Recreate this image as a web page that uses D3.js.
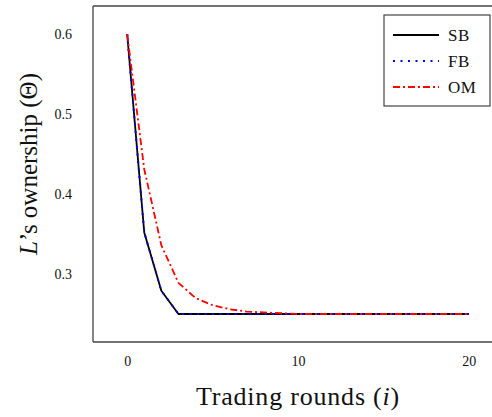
<!DOCTYPE html>
<html>
<head>
<meta charset="utf-8">
<script src="https://cdn.jsdelivr.net/npm/d3@7"></script>
<style>
  body { margin: 0; background: #fff; overflow: hidden; }
  svg { display: block; overflow: hidden; font-family: "Liberation Serif", "DejaVu Serif", serif; }
</style>
</head>
<body>
<div id="chart"></div>
<script>
// Trading rounds 0..20
const rounds = d3.range(0, 21);
const sbValues = [0.6, 0.352, 0.279, 0.25, 0.25, 0.25, 0.25, 0.25, 0.25, 0.25, 0.25,
                  0.25, 0.25, 0.25, 0.25, 0.25, 0.25, 0.25, 0.25, 0.25, 0.25];
const fbValues = [0.6, 0.352, 0.279, 0.25, 0.25, 0.25, 0.25, 0.25, 0.25, 0.25, 0.25,
                  0.25, 0.25, 0.25, 0.25, 0.25, 0.25, 0.25, 0.25, 0.25, 0.25];
const omValues = [0.6, 0.431, 0.336, 0.289, 0.27, 0.261, 0.256, 0.253, 0.252, 0.251, 0.25,
                  0.25, 0.25, 0.25, 0.25, 0.25, 0.25, 0.25, 0.25, 0.25, 0.25];
const xTicks = [0, 10, 20];
const yTicks = [0.3, 0.4, 0.5, 0.6];

const series = [
    {name: 'SB', values: sbValues, color: '#000', dash: null, width: 1.8},
    {name: 'FB', values: fbValues, color: '#0000ff', dash: '2,5.5', width: 2},
    {name: 'OM', values: omValues, color: '#ff0000', dash: '7,3,2,3', width: 1.8}
];

const W = 492, H = 417;
const margin = {top: 6, right: -11, bottom: 75, left: 93};
const width = W - margin.left - margin.right;
const height = H - margin.top - margin.bottom;

const svg = d3.select('#chart')
    .append('svg')
    .attr('width', W)
    .attr('height', H);

const g = svg.append('g')
    .attr('transform', `translate(${margin.left},${margin.top})`);

// pgfplots-style enlarged limits (10%)
const x = d3.scaleLinear().domain([-2, 22]).range([0, width]);
const y = d3.scaleLinear().domain([0.215, 0.635]).range([height, 0]);

g.append('defs').append('clipPath')
    .attr('id', 'clip')
    .append('rect')
    .attr('width', width)
    .attr('height', height);

// Lines
const line = d3.line()
    .x((d, i) => x(rounds[i]))
    .y(d => y(d));

const plot = g.append('g').attr('clip-path', 'url(#clip)');
series.forEach(s => {
    plot.append('path')
        .datum(s.values)
        .attr('fill', 'none')
        .attr('stroke', s.color)
        .attr('stroke-width', s.width)
        .attr('stroke-dasharray', s.dash)
        .attr('stroke-linejoin', 'round')
        .attr('d', line);
});

// Frame: left, top, bottom (the right side is cut off in the picture)
const frame = g.append('g')
    .attr('stroke', '#444')
    .attr('stroke-width', 1.3);
frame.append('line').attr('x1', 0).attr('x2', 0).attr('y1', 0).attr('y2', height);
frame.append('line').attr('x1', 0).attr('x2', W).attr('y1', 0).attr('y2', 0);
frame.append('line').attr('x1', 0).attr('x2', W).attr('y1', height).attr('y2', height);

// Axes (labels only, no tick marks)
const xAxis = g.append('g')
    .attr('transform', `translate(0,${height})`)
    .call(d3.axisBottom(x).tickValues(xTicks).tickSize(0).tickPadding(14).tickFormat(d3.format('d')));
xAxis.select('.domain').remove();
xAxis.selectAll('text')
    .style('font-family', '"Liberation Serif", serif')
    .style('font-size', '14px')
    .attr('fill', '#111');

const yAxis = g.append('g')
    .call(d3.axisLeft(y).tickValues(yTicks).tickSize(0).tickPadding(21).tickFormat(d3.format('.1f')));
yAxis.select('.domain').remove();
yAxis.selectAll('text')
    .style('font-family', '"Liberation Serif", serif')
    .style('font-size', '14px')
    .attr('fill', '#111');

// Axis labels
svg.append('text')
    .attr('x', margin.left + x(10))
    .attr('y', 405)
    .attr('text-anchor', 'middle')
    .style('font-size', '26px')
    .style('letter-spacing', '0.8px')
    .attr('fill', '#111')
    .html('Trading rounds (<tspan font-style="italic">i</tspan>)');

svg.append('text')
    .attr('transform', 'translate(37,164) rotate(-90)')
    .attr('text-anchor', 'middle')
    .style('font-size', '25px')
    .attr('fill', '#111')
    .html('<tspan font-style="italic">L</tspan>’s ownership (Θ)');

// Legend
const legend = svg.append('g');
legend.append('rect')
    .attr('x', 384)
    .attr('y', 15)
    .attr('width', 106)
    .attr('height', 91)
    .attr('fill', '#fff')
    .attr('stroke', '#444')
    .attr('stroke-width', 1.2);

series.forEach((s, i) => {
    const ly = 35 + i * 26;
    legend.append('line')
        .attr('x1', 393)
        .attr('x2', 439)
        .attr('y1', ly)
        .attr('y2', ly)
        .attr('stroke', s.color)
        .attr('stroke-width', s.width)
        .attr('stroke-dasharray', s.dash);
    legend.append('text')
        .attr('x', 448)
        .attr('y', ly + 5.5)
        .style('font-size', '17px')
        .style('letter-spacing', '0.5px')
        .attr('fill', '#111')
        .text(s.name);
});
</script>
</body>
</html>
